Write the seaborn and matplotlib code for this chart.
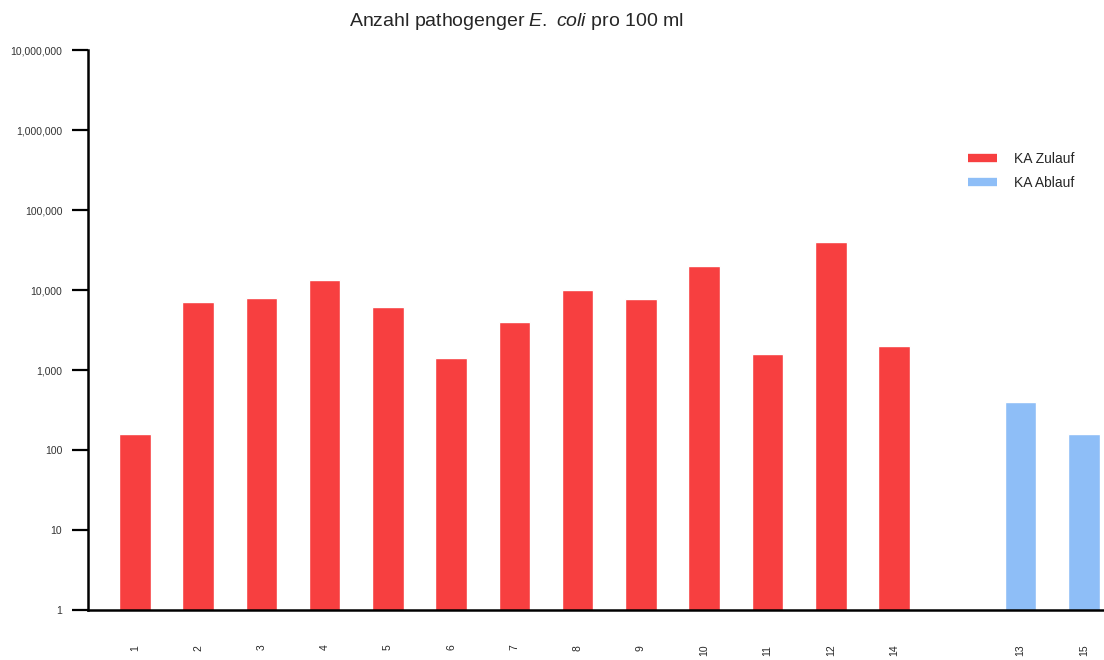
import matplotlib
matplotlib.use("Agg")
import matplotlib.pyplot as plt
from matplotlib.lines import Line2D
from matplotlib.ticker import FixedLocator, NullLocator
import seaborn as sns
import pandas as pd

sns.set_style("white")
plt.rcParams["font.family"] = ["Liberation Sans", "DejaVu Sans"]
plt.rcParams["mathtext.fontset"] = "custom"
plt.rcParams["mathtext.rm"] = "Liberation Sans"
plt.rcParams["mathtext.it"] = "Liberation Sans:italic"

# Samples in plotting order (an empty slot separates inflow and outflow)
labels = ["1", "2", "3", "4", "5", "6", "7", "8", "9", "10", "11", "12", "14", " ", "13", "15"]
zulauf_labels = ["1", "2", "3", "4", "5", "6", "7", "8", "9", "10", "11", "12", "14"]
zulauf_values = [160, 7000, 8000, 13500, 6200, 1400, 4000, 10000, 7800, 20000, 1600, 40000, 2000]
ablauf_labels = ["13", "15"]
ablauf_values = [400, 160]
groups = ["KA Zulauf", "KA Ablauf"]
colors = ["#F73F40", "#8EBEF7"]
yticks = [1, 10, 100, 1000, 10000, 100000, 1000000, 10000000]

df = pd.DataFrame({
    "Probe": pd.Categorical(zulauf_labels + ablauf_labels, categories=labels),
    "Wert": zulauf_values + ablauf_values,
    "Gruppe": [groups[0]] * len(zulauf_labels) + [groups[1]] * len(ablauf_labels),
})

fig = plt.figure(figsize=(11.04, 6.6), dpi=100)
ax = fig.add_axes([88 / 1104, 50 / 660, 1016 / 1104, 560 / 660])

sns.barplot(data=df, x="Probe", y="Wert", hue="Gruppe", order=labels,
            hue_order=groups, palette=colors, dodge=False, width=0.5,
            saturation=1, legend=False, ax=ax)

ax.set_yscale("log")
ax.set_ylim(1, 1e7)
ax.yaxis.set_major_locator(FixedLocator(yticks))
ax.yaxis.set_minor_locator(NullLocator())
ax.set_yticklabels([f"{v:,}" for v in yticks], fontsize=7.5, color="#333333")
ax.set_xlim(-0.74, 15.32)
ax.set_xlabel("")
ax.set_ylabel("")

ax.tick_params(axis="y", length=11.5, width=1.6, color="black", pad=7, left=True)
ax.tick_params(axis="x", length=0, pad=25, labelsize=7.5, labelrotation=90)

sns.despine(ax=ax, top=True, right=True)
for side in ["left", "bottom"]:
    ax.spines[side].set_linewidth(1.8)
    ax.spines[side].set_color("black")

handles = [Line2D([0], [0], color=c, lw=6, solid_capstyle="butt") for c in colors]
ax.legend(handles, groups, loc="upper left", bbox_to_anchor=(0.854, 0.84),
          frameon=False, fontsize=10, handlelength=2.1, handletextpad=1.2,
          labelspacing=0.7)

fig.text(516 / 1104, 1 - 22 / 660,
         r"Anzahl pathogenger $\it{E.\ coli}$ pro 100 ml",
         ha="center", va="center", fontsize=14)

fig.savefig("out.png", dpi=100, facecolor="white")
